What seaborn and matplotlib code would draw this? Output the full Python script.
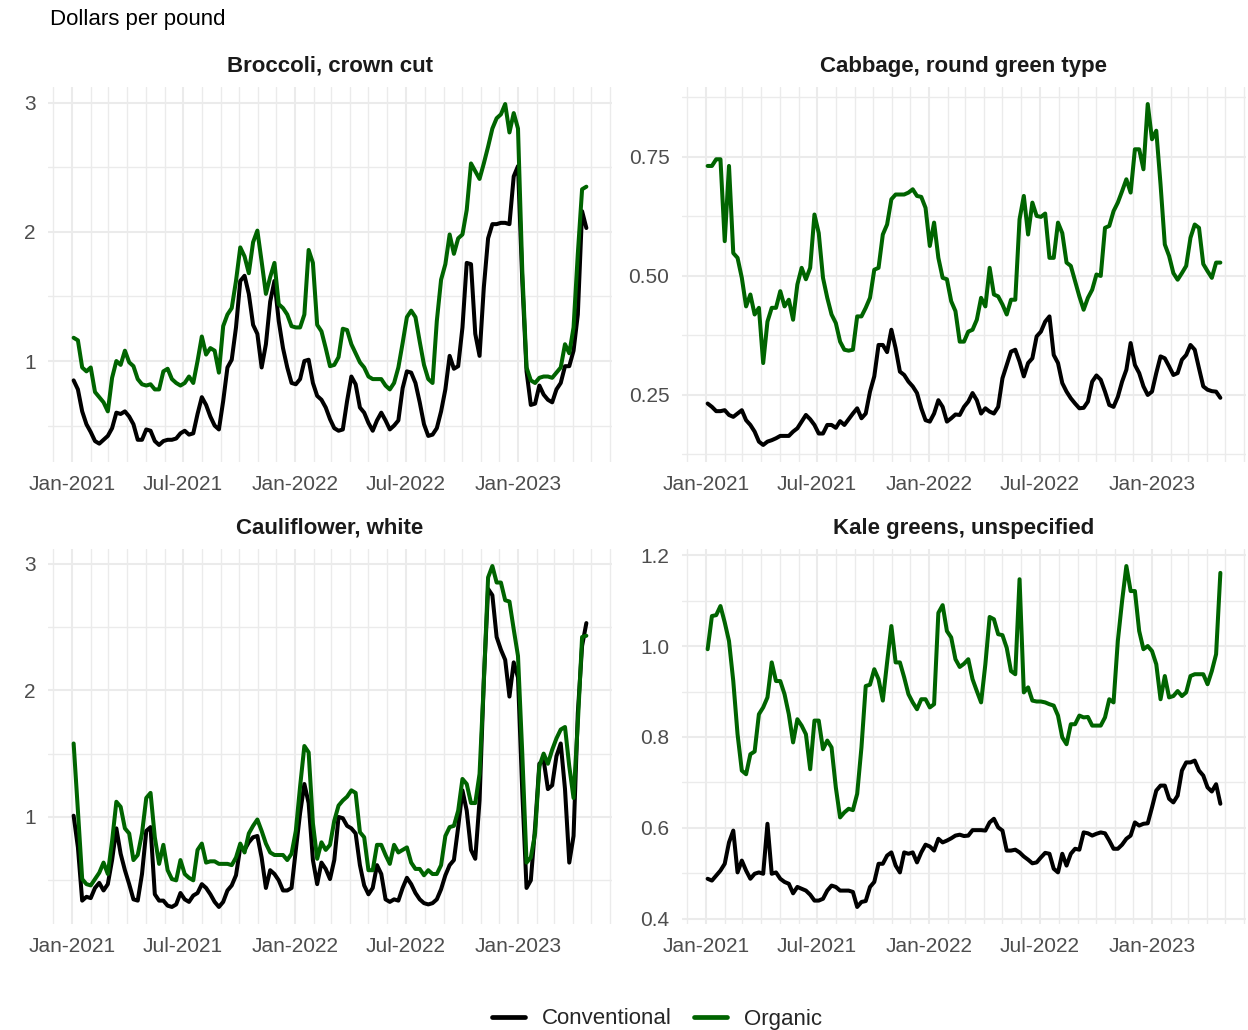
import matplotlib
matplotlib.use("Agg")
import matplotlib.pyplot as plt
import matplotlib.dates as mdates
from matplotlib.ticker import MultipleLocator, FormatStrFormatter
from matplotlib.lines import Line2D
import pandas as pd
import seaborn as sns

sns.set_theme(style="white")
plt.rcParams["font.family"] = ["Liberation Sans", "DejaVu Sans"]

# Weekly retail prices, dollars per pound
weeks = pd.date_range("2021-01-03", periods=121, freq="7D")

broccoli_conventional = [
    0.85, 0.78, 0.61, 0.51, 0.45, 0.38, 0.36, 0.39, 0.42, 0.48,
    0.60, 0.59, 0.61, 0.57, 0.51, 0.39, 0.39, 0.47, 0.46, 0.38,
    0.35, 0.38, 0.39, 0.39, 0.40, 0.44, 0.46, 0.43, 0.44, 0.59,
    0.72, 0.66, 0.57, 0.50, 0.47, 0.69, 0.95, 1.01, 1.26, 1.62,
    1.66, 1.52, 1.28, 1.21, 0.95, 1.13, 1.46, 1.62, 1.31, 1.10,
    0.95, 0.83, 0.82, 0.86, 1.00, 1.01, 0.83, 0.73, 0.70, 0.64,
    0.55, 0.48, 0.46, 0.47, 0.69, 0.88, 0.82, 0.64, 0.60, 0.52,
    0.46, 0.54, 0.60, 0.54, 0.47, 0.50, 0.54, 0.79, 0.92, 0.91,
    0.83, 0.68, 0.51, 0.42, 0.43, 0.48, 0.61, 0.78, 1.04, 0.94,
    0.96, 1.26, 1.76, 1.75, 1.21, 1.04, 1.57, 1.95, 2.06, 2.06,
    2.07, 2.07, 2.06, 2.43, 2.51, 1.62, 0.92, 0.66, 0.67, 0.81,
    0.74, 0.70, 0.68, 0.78, 0.83, 0.96, 0.96, 1.08, 1.36, 2.16,
    2.03,
]
broccoli_organic = [
    1.18, 1.16, 0.95, 0.92, 0.95, 0.76, 0.72, 0.68, 0.61, 0.87,
    1.00, 0.97, 1.08, 0.99, 0.96, 0.86, 0.82, 0.81, 0.82, 0.78,
    0.78, 0.92, 0.94, 0.86, 0.83, 0.81, 0.83, 0.88, 0.83, 1.00,
    1.19, 1.05, 1.10, 1.08, 0.91, 1.27, 1.36, 1.41, 1.62, 1.88,
    1.81, 1.68, 1.92, 2.01, 1.77, 1.52, 1.65, 1.76, 1.44, 1.41,
    1.36, 1.27, 1.26, 1.26, 1.36, 1.86, 1.76, 1.28, 1.23, 1.10,
    0.96, 0.97, 1.03, 1.25, 1.24, 1.13, 1.06, 0.99, 0.95, 0.88,
    0.86, 0.86, 0.86, 0.81, 0.78, 0.83, 0.95, 1.14, 1.34, 1.39,
    1.34, 1.15, 0.97, 0.86, 0.83, 1.31, 1.63, 1.75, 1.98, 1.83,
    1.95, 1.98, 2.17, 2.53, 2.47, 2.41, 2.53, 2.66, 2.80, 2.88,
    2.91, 2.99, 2.77, 2.92, 2.80, 1.70, 0.95, 0.85, 0.83, 0.87,
    0.88, 0.88, 0.87, 0.91, 0.95, 1.13, 1.06, 1.26, 1.83, 2.33,
    2.35,
]
cabbage_conventional = [
    0.232, 0.225, 0.216, 0.216, 0.218, 0.208, 0.204, 0.211, 0.218, 0.197,
    0.187, 0.173, 0.152, 0.145, 0.152, 0.155, 0.159, 0.164, 0.164, 0.164,
    0.173, 0.180, 0.194, 0.208, 0.199, 0.187, 0.169, 0.169, 0.187, 0.187,
    0.181, 0.195, 0.187, 0.199, 0.211, 0.222, 0.201, 0.211, 0.257, 0.289,
    0.355, 0.355, 0.340, 0.387, 0.348, 0.299, 0.292, 0.278, 0.268, 0.254,
    0.222, 0.197, 0.194, 0.211, 0.239, 0.225, 0.194, 0.201, 0.209, 0.208,
    0.225, 0.236, 0.254, 0.239, 0.211, 0.222, 0.215, 0.211, 0.225, 0.285,
    0.313, 0.341, 0.345, 0.320, 0.289, 0.317, 0.327, 0.373, 0.383, 0.404,
    0.415, 0.334, 0.317, 0.275, 0.257, 0.243, 0.232, 0.222, 0.223, 0.236,
    0.278, 0.291, 0.282, 0.257, 0.229, 0.225, 0.246, 0.278, 0.303, 0.359,
    0.313, 0.296, 0.268, 0.250, 0.257, 0.296, 0.331, 0.327, 0.310, 0.292,
    0.296, 0.324, 0.334, 0.355, 0.345, 0.306, 0.268, 0.261, 0.258, 0.257,
    0.244,
]
cabbage_organic = [
    0.731, 0.731, 0.745, 0.745, 0.573, 0.731, 0.548, 0.538, 0.496, 0.436,
    0.461, 0.419, 0.433, 0.317, 0.404, 0.433, 0.433, 0.468, 0.436, 0.450,
    0.408, 0.482, 0.517, 0.493, 0.517, 0.629, 0.590, 0.496, 0.454, 0.419,
    0.401, 0.362, 0.345, 0.343, 0.345, 0.415, 0.415, 0.433, 0.454, 0.513,
    0.517, 0.587, 0.608, 0.661, 0.671, 0.671, 0.671, 0.675, 0.682, 0.668,
    0.666, 0.643, 0.563, 0.612, 0.538, 0.496, 0.493, 0.447, 0.426, 0.362,
    0.362, 0.383, 0.387, 0.408, 0.454, 0.436, 0.517, 0.461, 0.457, 0.440,
    0.419, 0.450, 0.450, 0.619, 0.668, 0.587, 0.654, 0.626, 0.624, 0.631,
    0.538, 0.538, 0.612, 0.590, 0.528, 0.521, 0.489, 0.457, 0.429, 0.454,
    0.471, 0.503, 0.500, 0.601, 0.605, 0.636, 0.654, 0.678, 0.703, 0.675,
    0.766, 0.766, 0.724, 0.861, 0.787, 0.805, 0.692, 0.566, 0.542, 0.506,
    0.492, 0.506, 0.521, 0.580, 0.608, 0.601, 0.525, 0.510, 0.496, 0.528,
    0.528,
]
cauliflower_conventional = [
    1.01, 0.76, 0.34, 0.37, 0.36, 0.44, 0.48, 0.42, 0.47, 0.66,
    0.91, 0.71, 0.58, 0.47, 0.35, 0.34, 0.55, 0.89, 0.92, 0.39,
    0.34, 0.34, 0.30, 0.29, 0.31, 0.40, 0.35, 0.33, 0.38, 0.40,
    0.47, 0.44, 0.39, 0.33, 0.29, 0.33, 0.42, 0.46, 0.54, 0.76,
    0.74, 0.80, 0.84, 0.85, 0.68, 0.44, 0.58, 0.55, 0.50, 0.42,
    0.42, 0.44, 0.74, 1.03, 1.26, 1.11, 0.66, 0.47, 0.64, 0.59,
    0.51, 0.66, 1.00, 0.99, 0.93, 0.91, 0.87, 0.62, 0.46, 0.39,
    0.44, 0.62, 0.55, 0.35, 0.33, 0.35, 0.34, 0.44, 0.52, 0.47,
    0.40, 0.35, 0.32, 0.31, 0.32, 0.35, 0.43, 0.54, 0.62, 0.66,
    0.92, 1.21, 1.05, 0.74, 0.67, 1.13, 2.08, 2.80, 2.75, 2.42,
    2.32, 2.24, 1.95, 2.22, 2.10, 1.20, 0.44, 0.50, 0.92, 1.42,
    1.45, 1.22, 1.25, 1.48, 1.58, 1.22, 0.64, 0.85, 1.82, 2.35,
    2.53,
]
cauliflower_organic = [
    1.58, 1.05, 0.51, 0.47, 0.46, 0.51, 0.56, 0.64, 0.55, 0.81,
    1.12, 1.08, 0.91, 0.87, 0.66, 0.70, 0.87, 1.15, 1.19, 0.84,
    0.63, 0.78, 0.58, 0.51, 0.50, 0.66, 0.55, 0.52, 0.50, 0.74,
    0.79, 0.64, 0.65, 0.65, 0.63, 0.63, 0.63, 0.62, 0.68, 0.79,
    0.72, 0.87, 0.93, 0.98, 0.89, 0.79, 0.72, 0.70, 0.70, 0.70,
    0.66, 0.71, 0.89, 1.24, 1.56, 1.51, 0.95, 0.67, 0.80, 0.74,
    0.78, 0.97, 1.09, 1.13, 1.16, 1.21, 1.19, 0.88, 0.84, 0.58,
    0.58, 0.78, 0.78, 0.70, 0.63, 0.78, 0.72, 0.74, 0.76, 0.64,
    0.59, 0.59, 0.54, 0.58, 0.55, 0.55, 0.62, 0.85, 0.92, 0.93,
    1.05, 1.30, 1.26, 1.11, 1.11, 1.34, 2.06, 2.89, 2.98, 2.85,
    2.85, 2.71, 2.70, 2.48, 2.27, 1.50, 0.64, 0.68, 0.87, 1.40,
    1.50, 1.42, 1.53, 1.62, 1.69, 1.71, 1.40, 1.15, 1.74, 2.42,
    2.43,
]
kale_conventional = [
    0.488, 0.484, 0.495, 0.506, 0.521, 0.568, 0.594, 0.502, 0.528, 0.506,
    0.488, 0.499, 0.502, 0.499, 0.609, 0.499, 0.502, 0.488, 0.481, 0.477,
    0.456, 0.470, 0.466, 0.462, 0.453, 0.440, 0.440, 0.444, 0.462, 0.473,
    0.470, 0.462, 0.462, 0.462, 0.459, 0.426, 0.437, 0.439, 0.470, 0.481,
    0.521, 0.521, 0.539, 0.546, 0.517, 0.502, 0.546, 0.543, 0.546, 0.524,
    0.546, 0.563, 0.559, 0.550, 0.576, 0.568, 0.572, 0.577, 0.583, 0.585,
    0.582, 0.583, 0.595, 0.595, 0.595, 0.594, 0.612, 0.620, 0.601, 0.594,
    0.550, 0.550, 0.552, 0.546, 0.537, 0.530, 0.522, 0.524, 0.535, 0.545,
    0.543, 0.510, 0.502, 0.543, 0.517, 0.543, 0.554, 0.552, 0.590, 0.588,
    0.583, 0.587, 0.590, 0.588, 0.572, 0.554, 0.554, 0.563, 0.576, 0.583,
    0.612, 0.605, 0.609, 0.610, 0.645, 0.682, 0.693, 0.693, 0.664, 0.656,
    0.671, 0.726, 0.744, 0.744, 0.748, 0.726, 0.715, 0.689, 0.680, 0.696,
    0.653,
]
kale_organic = [
    0.993, 1.066, 1.068, 1.088, 1.052, 1.011, 0.923, 0.806, 0.726, 0.718,
    0.762, 0.768, 0.850, 0.865, 0.887, 0.964, 0.923, 0.923, 0.894, 0.850,
    0.788, 0.839, 0.825, 0.806, 0.729, 0.836, 0.836, 0.773, 0.792, 0.777,
    0.689, 0.623, 0.634, 0.642, 0.639, 0.675, 0.777, 0.912, 0.915, 0.949,
    0.927, 0.880, 0.964, 1.044, 0.964, 0.964, 0.931, 0.894, 0.876, 0.861,
    0.883, 0.883, 0.865, 0.872, 1.073, 1.090, 1.033, 1.019, 0.971, 0.954,
    0.961, 0.971, 0.927, 0.901, 0.876, 0.960, 1.064, 1.059, 1.026, 1.024,
    0.996, 0.945, 0.938, 1.147, 0.898, 0.909, 0.880, 0.878, 0.878, 0.876,
    0.872, 0.869, 0.847, 0.799, 0.784, 0.828, 0.828, 0.847, 0.843, 0.844,
    0.825, 0.825, 0.825, 0.843, 0.883, 0.876, 1.011, 1.099, 1.176, 1.121,
    1.121, 1.033, 0.993, 1.000, 0.989, 0.960, 0.883, 0.934, 0.887, 0.890,
    0.901, 0.890, 0.898, 0.934, 0.938, 0.938, 0.938, 0.916, 0.945, 0.982,
    1.161,
]

products = ["Broccoli, crown cut", "Cabbage, round green type",
            "Cauliflower, white", "Kale greens, unspecified"]
series = {
    "Broccoli, crown cut": (broccoli_conventional, broccoli_organic),
    "Cabbage, round green type": (cabbage_conventional, cabbage_organic),
    "Cauliflower, white": (cauliflower_conventional, cauliflower_organic),
    "Kale greens, unspecified": (kale_conventional, kale_organic),
}
production = ["Conventional", "Organic"]
colors = {"Conventional": "#000000", "Organic": "#006400"}

frames = []
for name in products:
    conv, org = series[name]
    for label, vals in zip(production, (conv, org)):
        frames.append(pd.DataFrame({"week": weeks, "price": vals,
                                    "product": name, "production": label}))
df = pd.concat(frames, ignore_index=True)

W, H = 1248, 1030
fig = plt.figure(figsize=(W / 100, H / 100), dpi=100)

# panel boxes in pixels: (left, top), plus y tick spacing and label format
layout = {
    "Broccoli, crown cut": ((48, 87), 1.0, 0.5, "%d"),
    "Cabbage, round green type": ((682, 87), 0.25, 0.125, "%.2f"),
    "Cauliflower, white": ((48, 549), 1.0, 0.5, "%d"),
    "Kale greens, unspecified": ((682, 549), 0.2, 0.1, "%.1f"),
}
pw, ph = 564, 375
grid_color = "#EBEBEB"
x_lo, x_hi = pd.Timestamp("2020-11-22"), pd.Timestamp("2023-06-04")

for name in products:
    (left, top), major, minor, fmt = layout[name]
    ax = fig.add_axes([left / W, 1 - (top + ph) / H, pw / W, ph / H])
    sub = df[df["product"] == name]
    sns.lineplot(data=sub, x="week", y="price", hue="production",
                 hue_order=production, palette=colors, linewidth=2.9,
                 legend=False, ax=ax)
    ax.set_xlim(x_lo, x_hi)
    ax.margins(y=0.05)
    ax.xaxis.set_major_locator(mdates.MonthLocator(bymonth=[1, 7]))
    ax.xaxis.set_major_formatter(mdates.DateFormatter("%b-%Y"))
    ax.xaxis.set_minor_locator(mdates.MonthLocator())
    ax.yaxis.set_major_locator(MultipleLocator(major))
    ax.yaxis.set_minor_locator(MultipleLocator(minor))
    ax.yaxis.set_major_formatter(FormatStrFormatter(fmt))
    ax.grid(which="major", color=grid_color, linewidth=1.5)
    ax.grid(which="minor", color=grid_color, linewidth=1.0)
    ax.set_axisbelow(True)
    for s in ax.spines.values():
        s.set_visible(False)
    ax.tick_params(which="both", length=0, pad=9, labelsize=15,
                   labelcolor="#4D4D4D")
    ax.set_xlabel("")
    ax.set_ylabel("")
    ax.set_title(name, fontsize=16, fontweight="bold", color="#1A1A1A", pad=11)

fig.text(50 / W, 1 - 19 / H, "Dollars per pound", fontsize=16,
         color="#000000", ha="left", va="center")

handles = [Line2D([0], [0], color=colors[p], linewidth=3.4) for p in production]
fig.legend(handles, production, loc="center",
           bbox_to_anchor=(657 / W, 1 - 1019 / H),
           ncol=2, frameon=False, fontsize=16, handlelength=1.5,
           handletextpad=0.75, columnspacing=1.0)

fig.savefig("out.png", dpi=100, facecolor="white")
